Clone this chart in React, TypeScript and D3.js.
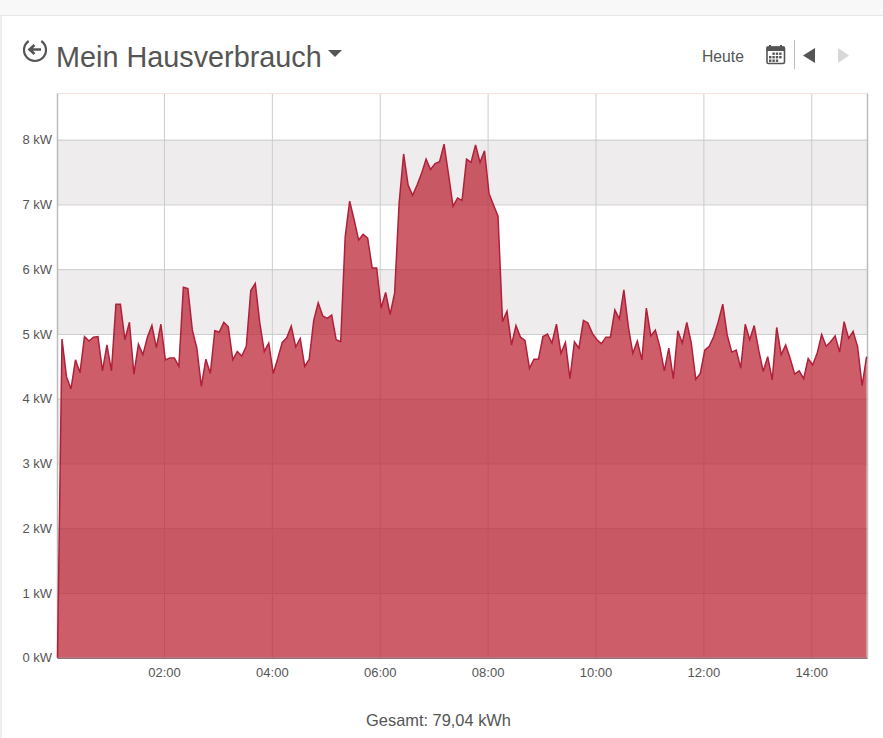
import * as d3 from "d3";
import { useEffect, useRef } from "react";

const width = 883;
const height = 738;

// power readings in kW, one every 5 minutes, first one at 00:01
const power = [
  0, 4.92, 4.34, 4.15, 4.6, 4.4, 4.96, 4.89, 4.95, 4.96, 4.43, 4.83, 4.43, 5.46, 5.46, 4.91, 5.18, 4.38, 4.84, 4.68,
  4.95, 5.13, 4.79, 5.15, 4.6, 4.63, 4.63, 4.5, 5.72, 5.7, 5.06, 4.78, 4.19, 4.61, 4.39, 5.05, 5.03, 5.18, 5.11, 4.6,
  4.73, 4.66, 4.81, 5.67, 5.78, 5.17, 4.73, 4.86, 4.39, 4.62, 4.87, 4.94, 5.12, 4.8, 4.93, 4.5, 4.61, 5.21, 5.48, 5.28,
  5.24, 5.29, 4.91, 4.88, 6.5, 7.05, 6.76, 6.45, 6.54, 6.48, 6.02, 6.02, 5.4, 5.64, 5.3, 5.63, 7.02, 7.78, 7.3, 7.14,
  7.3, 7.48, 7.7, 7.54, 7.63, 7.66, 7.93, 7.46, 6.97, 7.1, 7.06, 7.7, 7.65, 7.92, 7.65, 7.83, 7.17, 6.99, 6.82, 5.19,
  5.35, 4.83, 5.13, 4.95, 4.9, 4.47, 4.61, 4.61, 4.96, 5.0, 4.86, 5.15, 4.7, 4.87, 4.31, 4.88, 4.78, 5.21, 5.17, 5.01,
  4.91, 4.85, 4.95, 4.95, 5.37, 5.23, 5.68, 5.11, 4.7, 4.89, 4.6, 5.4, 4.97, 5.06, 4.8, 4.43, 4.78, 4.31, 5.05, 4.86,
  5.18, 4.86, 4.3, 4.39, 4.75, 4.81, 4.96, 5.19, 5.46, 4.98, 4.72, 4.75, 4.47, 5.15, 4.91, 5.13, 4.75, 4.42, 4.65, 4.29,
  5.1, 4.68, 4.83, 4.62, 4.38, 4.43, 4.31, 4.62, 4.52, 4.7, 4.99, 4.81, 4.88, 4.97, 4.72, 5.19, 4.93, 5.04, 4.8, 4.2,
  4.65,
];
const yTicks = [0, 1, 2, 3, 4, 5, 6, 7, 8];
const bands = [
  [1, 2],
  [3, 4],
  [5, 6],
  [7, 8],
];
const hourTicks = [2, 4, 6, 8, 10, 12, 14];
const title = "Mein Hausverbrauch";
const todayLabel = "Heute";
const total = "Gesamt: 79,04 kWh";

const day = (minutes: number) => new Date(2020, 0, 1, 0, minutes);

export default function App() {
  const svgRef = useRef<SVGSVGElement>(null);

  useEffect(() => {
    if (!svgRef.current) return;
    const svg = d3.select(svgRef.current);
    svg.selectAll("*").remove();

    const font = "'Liberation Sans', Arial, sans-serif";
    const textColor = "#555";

    const x = d3
      .scaleTime()
      .domain([day(1), day(1 + 5 * (power.length - 1))])
      .range([57.5, 866.6]);
    const y = d3.scaleLinear().domain([0, 8]).range([657.7, 139.7]);
    const plotTop = 93.5;
    const plotRight = 867.5;

    // Page chrome
    svg.append("rect").attr("width", width).attr("height", height).attr("fill", "#fff");
    svg.append("rect").attr("width", width).attr("height", 15).attr("fill", "#f8f8f8");
    svg.append("rect").attr("y", 15).attr("width", width).attr("height", 1).attr("fill", "#e7e7e7");
    svg.append("rect").attr("y", 16).attr("width", 2).attr("height", height - 16).attr("fill", "#eee");

    // Header
    svg
      .append("text")
      .attr("x", 56)
      .attr("y", 67)
      .style("font-family", font)
      .style("font-size", "28.8px")
      .style("fill", "#555")
      .text(title);
    svg.append("path").attr("d", "M328,50 L342,50 L335,57 Z").attr("fill", "#555");

    // back icon
    const back = svg.append("g").attr("fill", "none").attr("stroke", "#555");
    back.append("path").attr("d", "M28.7,41 A11,11 0 1 0 41.3,41").attr("stroke-width", 2.2);
    back.append("path").attr("d", "M41,49.5 L30,49.5 M34.5,45 L29.5,49.5 L34.5,54").attr("stroke-width", 2.6);

    svg
      .append("text")
      .attr("x", 702)
      .attr("y", 62)
      .style("font-family", font)
      .style("font-size", "15.7px")
      .style("fill", textColor)
      .text(todayLabel);

    // calendar icon
    const cal = svg.append("g");
    cal
      .append("rect")
      .attr("x", 767)
      .attr("y", 47)
      .attr("width", 17.5)
      .attr("height", 16.5)
      .attr("rx", 1.5)
      .attr("fill", "#fff")
      .attr("stroke", "#555")
      .attr("stroke-width", 1.6);
    cal.append("rect").attr("x", 766.5).attr("y", 46.5).attr("width", 18).attr("height", 4.5).attr("fill", "#555");
    cal.append("rect").attr("x", 769).attr("y", 45).attr("width", 2).attr("height", 3).attr("fill", "#555");
    cal.append("rect").attr("x", 780).attr("y", 45).attr("width", 2).attr("height", 3).attr("fill", "#555");
    d3.range(3).forEach((r) =>
      d3.range(4).forEach((c) => {
        if (r === 0 && c === 0) return;
        if (r === 2 && c === 3) return;
        cal
          .append("rect")
          .attr("x", 769 + c * 3.4)
          .attr("y", 52.5 + r * 3.5)
          .attr("width", 2.4)
          .attr("height", 2.4)
          .attr("fill", "#555");
      }),
    );
    svg.append("rect").attr("x", 794).attr("y", 40).attr("width", 1).attr("height", 29).attr("fill", "#bbb");
    svg.append("path").attr("d", "M815,48 L815,63 L803,55.5 Z").attr("fill", "#555");
    svg.append("path").attr("d", "M838,48 L838,63 L849,55.5 Z").attr("fill", "#d8d8d8");

    // Bands
    svg
      .append("g")
      .selectAll("rect")
      .data(bands)
      .join("rect")
      .attr("x", x.range()[0])
      .attr("width", plotRight - x.range()[0])
      .attr("y", (d) => y(d[1]))
      .attr("height", (d) => y(d[0]) - y(d[1]))
      .attr("fill", "#eeeced");

    // Grid
    svg
      .append("g")
      .attr("transform", `translate(0,${y(0)})`)
      .call(
        d3
          .axisBottom(x)
          .offset(0)
          .tickValues(hourTicks.map((h) => day(h * 60)))
          .tickSize(-(y(0) - plotTop))
          .tickFormat(() => ""),
      )
      .call((g) => g.select(".domain").remove())
      .selectAll("line")
      .attr("stroke", "#ccc");
    svg
      .append("g")
      .attr("transform", `translate(${x.range()[0]},0)`)
      .call(
        d3
          .axisLeft(y)
          .tickValues(yTicks)
          .tickSize(-(plotRight - x.range()[0]))
          .tickFormat(() => ""),
      )
      .call((g) => g.select(".domain").remove())
      .selectAll("line")
      .attr("stroke", "#ccc");

    // Plot frame
    svg
      .append("line")
      .attr("x1", x.range()[0])
      .attr("x2", plotRight)
      .attr("y1", plotTop)
      .attr("y2", plotTop)
      .attr("stroke", "#f3e3dc");
    svg
      .append("line")
      .attr("x1", x.range()[0])
      .attr("x2", x.range()[0])
      .attr("y1", plotTop)
      .attr("y2", y(0))
      .attr("stroke", "#bbb")
      .attr("stroke-width", 1.5);
    svg
      .append("line")
      .attr("x1", plotRight)
      .attr("x2", plotRight)
      .attr("y1", plotTop)
      .attr("y2", y(0))
      .attr("stroke", "#bbb")
      .attr("stroke-width", 1.5);

    // Series
    const xOf = (_: number, i: number) => x(day(1 + 5 * i));
    svg
      .append("path")
      .datum(power)
      .attr(
        "d",
        d3
          .area<number>()
          .x(xOf)
          .y0(y(0))
          .y1((d) => y(d)),
      )
      .attr("fill", "rgb(188,39,55)")
      .attr("fill-opacity", 0.75);
    svg
      .append("path")
      .datum(power)
      .attr(
        "d",
        d3
          .line<number>()
          .x(xOf)
          .y((d) => y(d)),
      )
      .attr("fill", "none")
      .attr("stroke", "#b0203a")
      .attr("stroke-width", 1.5);
    svg
      .append("line")
      .attr("x1", x.range()[0])
      .attr("x2", plotRight)
      .attr("y1", y(0) + 0.5)
      .attr("y2", y(0) + 0.5)
      .attr("stroke", "#957078")
      .attr("stroke-width", 1.5);

    // Axis labels
    const xAxis = svg
      .append("g")
      .attr("transform", `translate(0,${y(0)})`)
      .call(
        d3
          .axisBottom(x)
          .offset(0)
          .tickValues(hourTicks.map((h) => day(h * 60)))
          .tickSize(0)
          .tickPadding(10)
          .tickFormat((d) => d3.timeFormat("%H:%M")(d as Date)),
      );
    xAxis.select(".domain").remove();
    xAxis
      .selectAll("text")
      .style("font-family", font)
      .style("font-size", "13px")
      .style("fill", textColor);

    const yAxis = svg
      .append("g")
      .attr("transform", `translate(${x.range()[0]},0)`)
      .call(
        d3
          .axisLeft(y)
          .tickValues(yTicks)
          .tickSize(0)
          .tickPadding(5.5)
          .tickFormat((d) => `${d} kW`),
      );
    yAxis.select(".domain").remove();
    yAxis
      .selectAll("text")
      .style("font-family", font)
      .style("font-size", "13px")
      .style("fill", textColor);

    svg
      .append("text")
      .attr("x", 438.5)
      .attr("y", 725.5)
      .attr("text-anchor", "middle")
      .style("font-family", font)
      .style("font-size", "16.4px")
      .style("fill", textColor)
      .text(total);
  }, []);

  return (
    <svg
      ref={svgRef}
      width={width}
      height={height}
      style={{ position: "absolute", left: 0, top: 0, display: "block" }}
    />
  );
}
